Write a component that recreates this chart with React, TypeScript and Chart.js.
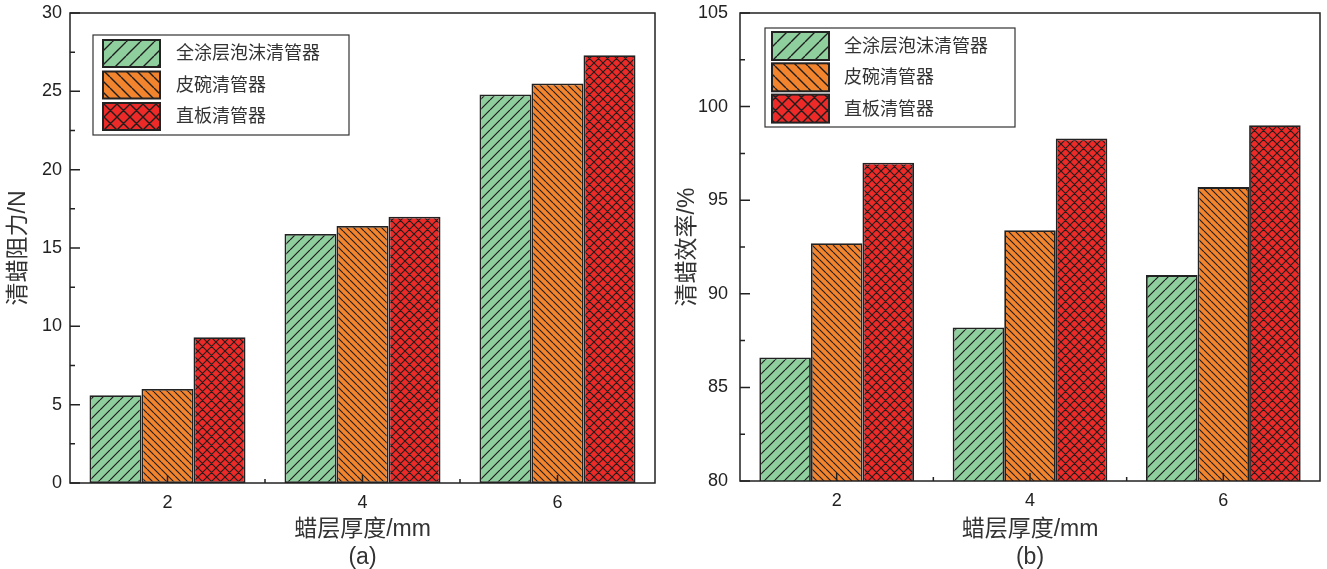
import React, { useEffect, useRef } from 'react';
import { Chart, registerables } from 'chart.js';

Chart.register(...registerables);

// ---------- data ----------
const categories = ['2', '4', '6'];
const seriesNames = ['全涂层泡沫清管器', '皮碗清管器', '直板清管器'];

const resistFoam = [5.6, 15.9, 24.8];
const resistCup = [6.0, 16.4, 25.5];
const resistPlate = [9.3, 17.0, 27.3];

const effFoam = [86.6, 88.2, 91.0];
const effCup = [92.7, 93.4, 95.7];
const effPlate = [97.0, 98.3, 99.0];

const xTitle = '蜡层厚度/mm';
const yTitleA = '清蜡阻力/N';
const yTitleB = '清蜡效率/%';

// ---------- style ----------
const FONT = "'Liberation Sans', Arial, 'Noto Sans CJK SC', sans-serif";
const GREEN = '#8fcf9e';
const ORANGE = '#f3842e';
const RED = '#ed2a27';
const INK = '#222222';
const TEXT = '#333333';
const H = 569;

type Kind = 'fwd' | 'back' | 'cross';

function makePattern(ctx: CanvasRenderingContext2D, bg: string, kind: Kind, size: number, lw: number) {
  const c = document.createElement('canvas');
  c.width = size;
  c.height = size;
  const g = c.getContext('2d') as CanvasRenderingContext2D;
  g.fillStyle = bg;
  g.fillRect(0, 0, size, size);
  g.strokeStyle = '#1e1e1e';
  g.lineWidth = lw;
  g.beginPath();
  for (let k = -1; k <= 1; k++) {
    if (kind === 'fwd' || kind === 'cross') {
      g.moveTo(k * size, size);
      g.lineTo(k * size + size, 0);
    }
    if (kind === 'back' || kind === 'cross') {
      g.moveTo(k * size, 0);
      g.lineTo(k * size + size, size);
    }
  }
  g.stroke();
  return ctx.createPattern(c, 'repeat') as CanvasPattern;
}

type LegendGeo = { dx: number; dy: number; w: number; h: number; swX: number; swY: number; swW: number; swH: number; pitch: number; txX: number };

type PanelProps = {
  left: number;
  width: number;
  series: number[][];
  yMin: number;
  yMax: number;
  yTitle: string;
  tag: string;
  plotLeft: number;
  plotRight: number;
  plotTop: number;
  plotBottom: number;
  yTitlePad: number;
  yTickPad: number;
  legend: LegendGeo;
};

function Panel(p: PanelProps) {
  const ref = useRef<HTMLCanvasElement | null>(null);

  useEffect(() => {
    const canvas = ref.current as HTMLCanvasElement;
    const ctx = canvas.getContext('2d') as CanvasRenderingContext2D;
    const barPats = [
      makePattern(ctx, GREEN, 'fwd', 10, 1.2),
      makePattern(ctx, ORANGE, 'back', 7, 1.1),
      makePattern(ctx, RED, 'cross', 9, 1.1),
    ];
    const legPats = [
      makePattern(ctx, GREEN, 'fwd', 14, 1.4),
      makePattern(ctx, ORANGE, 'back', 11, 1.4),
      makePattern(ctx, RED, 'cross', 13, 1.4),
    ];

    const frame = {
      id: 'frame',
      afterDraw(chart: any) {
        const { ctx: c, chartArea: a } = chart;
        const ys = chart.scales.y;
        const xs = chart.scales.x;
        c.save();
        c.strokeStyle = INK;
        c.lineWidth = 1.5;
        c.strokeRect(a.left, a.top, a.right - a.left, a.bottom - a.top);
        c.beginPath();
        const vals = ys.ticks.map((t: any) => t.value);
        vals.forEach((v: number, i: number) => {
          const py = ys.getPixelForValue(v);
          c.moveTo(a.left, py);
          c.lineTo(a.left + 10, py);
          if (i < vals.length - 1) {
            const my = ys.getPixelForValue((v + vals[i + 1]) / 2);
            c.moveTo(a.left, my);
            c.lineTo(a.left + 5, my);
          }
        });
        const n = xs.ticks.length;
        for (let i = 0; i < n; i++) {
          const px = xs.getPixelForTick(i);
          c.moveTo(px, a.bottom);
          c.lineTo(px, a.bottom - 8);
          if (i < n - 1) {
            const mx = (px + xs.getPixelForTick(i + 1)) / 2;
            c.moveTo(mx, a.bottom);
            c.lineTo(mx, a.bottom - 4);
          }
        }
        c.stroke();
        c.restore();
      },
    };

    const L = p.legend;
    const boxLegend = {
      id: 'boxLegend',
      afterDraw(chart: any) {
        const { ctx: c, chartArea: a } = chart;
        const x0 = a.left + L.dx;
        const y0 = a.top + L.dy;
        c.save();
        c.fillStyle = '#ffffff';
        c.fillRect(x0, y0, L.w, L.h);
        c.strokeStyle = '#333333';
        c.lineWidth = 1.2;
        c.strokeRect(x0, y0, L.w, L.h);
        chart.data.datasets.forEach((ds: any, i: number) => {
          const sx = x0 + L.swX;
          const sy = y0 + L.swY + i * L.pitch;
          c.fillStyle = legPats[i];
          c.fillRect(sx, sy, L.swW, L.swH);
          c.strokeStyle = INK;
          c.lineWidth = 2;
          c.strokeRect(sx, sy, L.swW, L.swH);
          c.fillStyle = TEXT;
          c.font = '18px ' + FONT;
          c.textBaseline = 'middle';
          c.textAlign = 'left';
          c.fillText(ds.label, x0 + L.txX, sy + L.swH / 2 + 1);
        });
        c.restore();
      },
    };

    const chart = new Chart(canvas, {
      type: 'bar',
      data: {
        labels: categories,
        datasets: p.series.map((d, i) => ({
          label: seriesNames[i],
          data: d,
          backgroundColor: barPats[i],
          borderColor: INK,
          borderWidth: 1.8,
          borderSkipped: false,
          categoryPercentage: 0.8,
          barPercentage: 1.0,
        })),
      },
      plugins: [frame, boxLegend],
      options: {
        responsive: false,
        animation: false,
        layout: {
          padding: { left: 0, right: p.width - p.plotRight, top: p.plotTop, bottom: 0 },
        },
        plugins: {
          legend: { display: false },
          tooltip: { enabled: false },
        },
        scales: {
          x: {
            type: 'category',
            offset: true,
            grid: { display: false, drawTicks: false },
            border: { display: false },
            ticks: { color: INK, font: { family: FONT, size: 18 }, padding: 9 },
            title: {
              display: true,
              text: [xTitle, p.tag],
              color: TEXT,
              font: { family: FONT, size: 23, lineHeight: 1.22 },
              padding: { top: 0, bottom: -3 },
            },
            afterFit: (s: any) => {
              s.height = H - p.plotBottom;
              s.paddingLeft = 0;
              s.paddingRight = 0;
            },
          },
          y: {
            min: p.yMin,
            max: p.yMax,
            grid: { display: false, drawTicks: false },
            border: { display: false },
            ticks: { stepSize: 5, color: INK, font: { family: FONT, size: 18 }, padding: p.yTickPad },
            title: {
              display: true,
              text: p.yTitle,
              color: TEXT,
              font: { family: FONT, size: 23, lineHeight: 1.2 },
              padding: { top: p.yTitlePad, bottom: 0 },
            },
            afterFit: (s: any) => {
              s.width = p.plotLeft;
              s.paddingTop = 0;
              s.paddingBottom = 0;
            },
          },
        },
      } as any,
    });
    return () => chart.destroy();
  }, []);

  return (
    <canvas
      ref={ref}
      width={p.width}
      height={H}
      style={{ position: 'absolute', left: p.left, top: 0, width: p.width, height: H }}
    />
  );
}

export default function App() {
  return (
    <div style={{ position: 'fixed', left: 0, top: 0, width: 1327, height: H, background: '#ffffff', overflow: 'hidden' }}>
      <Panel
        left={0}
        width={665}
        series={[resistFoam, resistCup, resistPlate]}
        yMin={0}
        yMax={30}
        yTitle={yTitleA}
        tag="(a)"
        plotLeft={70}
        plotRight={655}
        plotTop={13}
        plotBottom={483}
        yTitlePad={5}
        yTickPad={8}
        legend={{ dx: 23, dy: 22, w: 256, h: 100, swX: 10, swY: 5, swW: 57, swH: 27, pitch: 31.5, txX: 83 }}
      />
      <Panel
        left={665}
        width={662}
        series={[effFoam, effCup, effPlate]}
        yMin={80}
        yMax={105}
        yTitle={yTitleB}
        tag="(b)"
        plotLeft={75}
        plotRight={655}
        plotTop={13}
        plotBottom={481}
        yTitlePad={9}
        yTickPad={12}
        legend={{ dx: 25, dy: 15, w: 250, h: 99, swX: 7, swY: 4, swW: 57, swH: 28, pitch: 31.3, txX: 79 }}
      />
    </div>
  );
}
